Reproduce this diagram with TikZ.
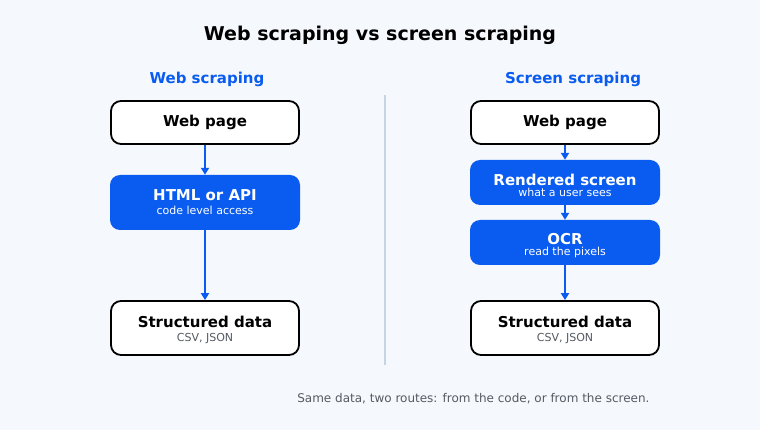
\documentclass[tikz,border=0pt]{standalone}
\usepackage{fontspec}
\setmainfont{DejaVu Sans}
\usetikzlibrary{arrows.meta}
\definecolor{bg}{HTML}{F5F8FC}
\definecolor{blu}{HTML}{0A5CF0}
\definecolor{divc}{HTML}{C5D3E3}
\definecolor{subg}{HTML}{555B63}
\newcommand\mystrut[1]{\rule{0pt}{#1}}
\begin{document}
\begin{tikzpicture}[x=1pt,y=-1pt,
  whitebox/.style={draw=black,line width=1.8pt,fill=white,rounded corners=10pt,minimum width=188pt,align=center,inner sep=0pt},
  bluebox/.style={fill=blu,rounded corners=10pt,minimum width=190pt,align=center,inner sep=0pt,text=white},
  conn/.style={draw=blu,line width=2.5pt,-{Triangle[length=7pt,width=8pt]}}]
\fill[bg] (0,0) rectangle (760,430);
\useasboundingbox (0,0) rectangle (760,430);
\node[font=\bfseries\fontsize{19}{23}\selectfont] (title) at (380,35) {Web scraping vs screen scraping};
\node[font=\bfseries\fontsize{15}{18}\selectfont,text=blu] (lh) at (207,79.5) {Web scraping};
\node[font=\bfseries\fontsize{15}{18}\selectfont,text=blu] (rh) at (573,79.5) {Screen scraping};
\draw[divc,line width=1.5pt] (385,95) -- (385,365);
% left
\node[whitebox,minimum height=43pt] (lw) at (205,122.5) {\fontsize{15}{18}\bfseries\selectfont Web page};
\node[bluebox,minimum height=55pt] (lh2) at (205,202.5) {{\fontsize{15}{18}\bfseries\selectfont HTML or API}\\[2pt]{\fontsize{11}{13}\selectfont code level access}};
\node[whitebox,minimum height=54pt] (ls) at (205,328) {{\fontsize{15}{18}\bfseries\selectfont\mystrut{15.5pt}Structured data}\\[2pt]{\fontsize{11}{13}\selectfont\color{subg} CSV, JSON}};
\draw[conn] (lw) -- (lh2);
\draw[conn] (lh2) -- (ls);
% right
\node[whitebox,minimum height=43pt] (rw) at (565,122.5) {\fontsize{15}{18}\bfseries\selectfont Web page};
\node[bluebox,minimum height=45pt] (rr) at (565,182.5) {{\fontsize{15}{17}\bfseries\selectfont\mystrut{17pt}Rendered screen}\\[-1pt]{\fontsize{11}{13}\selectfont what a user sees}};
\node[bluebox,minimum height=45pt] (ro) at (565,242.5) {{\fontsize{15}{17}\bfseries\selectfont\mystrut{17pt}OCR}\\[-1pt]{\fontsize{11}{13}\selectfont read the pixels}};
\node[whitebox,minimum height=54pt] (rs) at (565,328) {{\fontsize{15}{18}\bfseries\selectfont\mystrut{15.5pt}Structured data}\\[2pt]{\fontsize{11}{13}\selectfont\color{subg} CSV, JSON}};
\draw[conn] (rw) -- (rr);
\draw[conn] (rr) -- (ro);
\draw[conn] (ro) -- (rs);
\node[font=\fontsize{12}{15}\selectfont,text=subg,anchor=east] (foot) at (653,399) {Same data, two routes: from the code, or from the screen.};
\end{tikzpicture}
\end{document}
